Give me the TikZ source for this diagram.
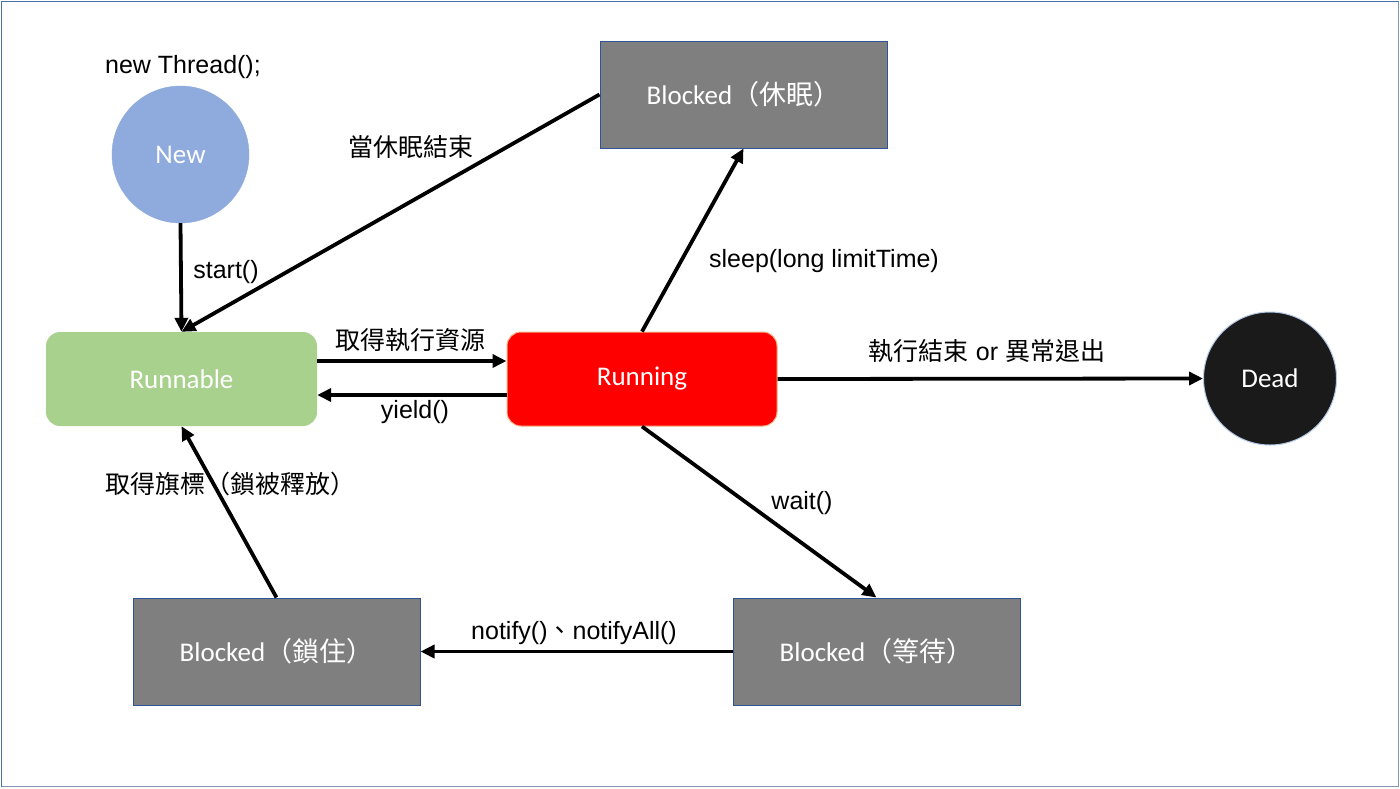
\documentclass[tikz,border=0pt]{standalone}
\usepackage{fontspec}
\setmainfont{Liberation Sans}
\newfontfamily\cjk{Noto Sans CJK TC}
\newfontfamily\calfont{Carlito}
\usetikzlibrary{arrows.meta,calc}
\definecolor{newblue}{HTML}{8FAADC}
\definecolor{rungreen}{HTML}{A9D18E}
\definecolor{runred}{HTML}{FF0000}
\definecolor{runborder}{HTML}{F4B183}
\definecolor{blkgray}{HTML}{7F7F7F}
\definecolor{blkborder}{HTML}{2F5597}
\definecolor{deadfill}{HTML}{1A1A1A}
\definecolor{deadborder}{HTML}{B4C7E7}
\definecolor{frameblue}{HTML}{4A6FA5}
\definecolor{framegray}{HTML}{8497B0}
\tikzset{
  state/.style={inner sep=0pt, text=white, font=\calfont\fontsize{27}{32}\selectfont},
  roundstate/.style={state, circle},
  rectstate/.style={state, rectangle, minimum width=271pt, minimum height=94pt, rounded corners=14pt},
  blockstate/.style={state, rectangle, fill=blkgray, draw=blkborder, line width=1pt, minimum width=287pt, minimum height=107pt},
  conn/.style={line width=3.8pt, -{Triangle[length=14pt,width=13pt]}},
  lbl/.style={inner sep=0pt, font=\fontsize{25}{30}\selectfont}
}
\begin{document}
\begin{tikzpicture}[x=1pt,y=-1pt]
\useasboundingbox (0,0) rectangle (1400,788);
\fill[white] (0,0) rectangle (1400,788);
\draw[framegray, line width=1.5pt] (1,786.5) -- (1398.5,786.5) -- (1398.5,1);
\draw[frameblue, line width=1.5pt] (1.5,786.5) -- (1.5,1.5) -- (1398.5,1.5);

% states
\node[roundstate, fill=newblue, draw=newblue, minimum size=137pt] (new) at (180.5,154.5) {New};
\node[rectstate, fill=rungreen] (runnable) at (181.5,379) {Runnable};
\node[rectstate, fill=runred, draw=runborder, line width=1pt, minimum width=270pt] (running) at (642,379) {Running};
\node[roundstate, fill=deadfill, draw=deadborder, line width=1pt, minimum size=133pt] (dead) at (1270,378.5) {Dead};
\node[blockstate] (sleep) at (743.5,94.5) {Blocked{\cjk（休眠）}};
\node[blockstate] (lock) at (276.5,651.5) {Blocked{\cjk（鎖住）}};
\node[blockstate] (wait) at (876.5,651.5) {Blocked{\cjk（等待）}};

% connectors
\draw[conn] (new.south) -- (runnable.north);
\draw[conn] (sleep.west) -- (runnable.north);
\draw[conn] ($(runnable.east)+(0,-18)$) -- ($(running.west)+(0,-18)$);
\draw[conn] ($(running.west)+(0,16)$) -- ($(runnable.east)+(0,16)$);
\draw[conn] (running.north) -- (sleep.south);
\draw[conn] (running.east) -- (dead.west);
\draw[conn] (running.south) -- (wait.north);
\draw[conn] (wait.west) -- (lock.east);
\draw[conn] (lock.north) -- (runnable.south);

% labels
\node[lbl] (lnew) at (183,67) {new Thread();};
\node[lbl] (lstart) at (226,272) {start()};
\node[lbl] (lsleepend) at (411,147) {\cjk 當休眠結束};
\node[lbl] (lget) at (410,340) {\cjk 取得執行資源};
\node[lbl] (lyield) at (415,412) {yield()};
\node[lbl] (lsleep) at (824,261) {sleep(long limitTime)};
\node[lbl] (ldead) at (987,351) {{\cjk 執行結束} or {\cjk 異常退出}};
\node[lbl] (lwait) at (802,503) {wait()};
\node[lbl] (lnotify) at (574,633) {notify(){\cjk 、}notifyAll()};
\node[lbl] (lflag) at (230,484) {\cjk 取得旗標（鎖被釋放）};
\end{tikzpicture}
\end{document}
